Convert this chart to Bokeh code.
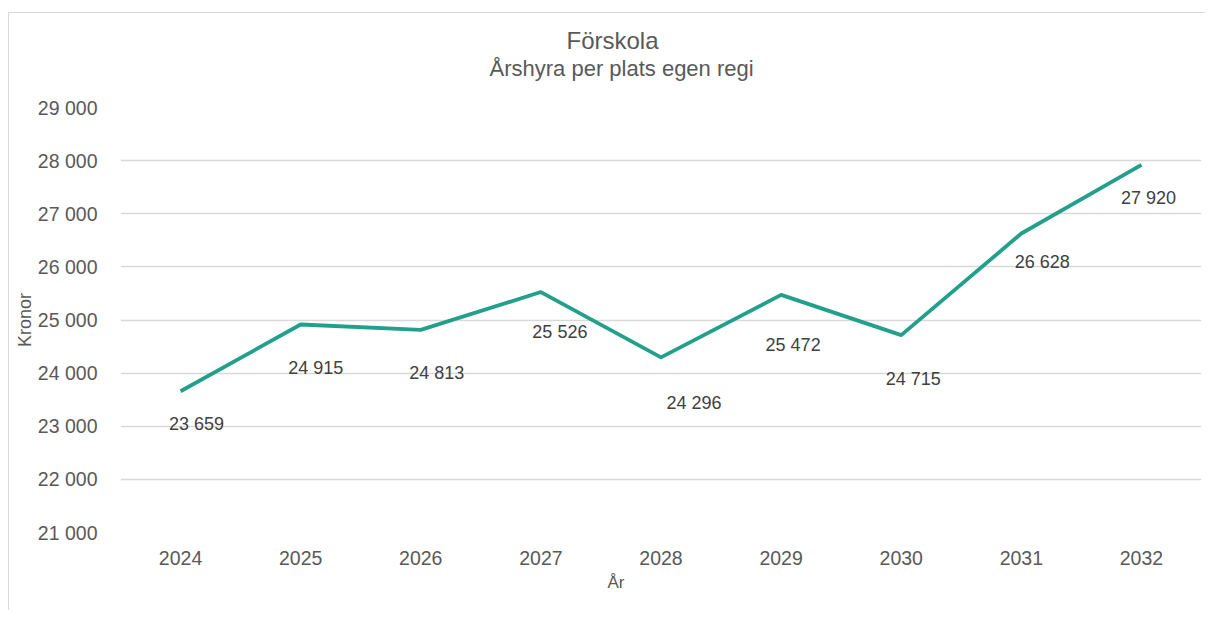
from bokeh.plotting import figure
from bokeh.models import Range1d, FixedTicker, Title, ColumnDataSource
from bokeh.core.properties import value
from bokeh.embed import file_html
from bokeh.resources import INLINE

# ---- data ----
years = ["2024", "2025", "2026", "2027", "2028", "2029", "2030", "2031", "2032"]
kronor = [23659, 24915, 24813, 25526, 24296, 25472, 24715, 26628, 27920]
y_ticks = [21000, 22000, 23000, 24000, 25000, 26000, 27000, 28000, 29000]
title_text = "Förskola"
subtitle_text = "Årshyra per plats egen regi"
x_title = "År"
y_title = "Kronor"

# label placement (screen pixel offsets, styling only)
label_dx = [16, 15, 16, 19, 33, 12, 12, 21, 7]
label_dy = [33, 43, 43, 40, 46, 50, 44, 28, 33]

FONT = "Liberation Sans"
TEAL = "#22A08B"
GRID = "#d9d9d9"
TXT = "#595959"

def fmt(v):
    return f"{v:,}".replace(",", " ")

xs = list(range(len(years)))
src = ColumnDataSource(dict(
    x=xs, y=kronor, lbl=[fmt(v) for v in kronor],
    dx=label_dx, dy=label_dy,
))

p = figure(width=1197, height=598, output_backend="svg", toolbar_location=None,
           x_range=Range1d(-0.5, len(years) - 0.5), y_range=Range1d(y_ticks[0], y_ticks[-1]),
           min_border_left=111, min_border_right=5, min_border_top=94, min_border_bottom=79,
           title=None)
p.margin = (12, 0, 0, 8)
p.styles = {"border-left": "1px solid #d9d9d9", "border-top": "1px solid #d9d9d9"}
p.outline_line_color = None
p.background_fill_color = "white"
p.border_fill_color = "white"

# grids
p.xgrid.visible = False
p.ygrid.grid_line_color = GRID
p.ygrid.grid_line_width = 1.5

# axes
p.yaxis.ticker = FixedTicker(ticks=y_ticks)
p.yaxis.major_label_overrides = {v: fmt(v) for v in y_ticks}
p.xaxis.ticker = FixedTicker(ticks=xs)
p.xaxis.major_label_overrides = {i: y for i, y in enumerate(years)}
for ax in (p.xaxis, p.yaxis):
    ax.axis_line_color = None
    ax.major_tick_line_color = None
    ax.minor_tick_line_color = None
    ax.major_tick_out = 0
    ax.major_tick_in = 0
    ax.major_label_text_font = FONT
    ax.major_label_text_font_size = "19.5px"
    ax.major_label_text_color = TXT
p.yaxis.major_label_standoff = 23
p.xaxis.major_label_standoff = 18

# line
p.line("x", "y", source=src, line_color=TEAL, line_width=3.8, line_join="round")

# data labels
p.text("x", "y", text="lbl", source=src, x_offset="dx", y_offset="dy",
       text_align="center", text_baseline="middle",
       text_font=value(FONT), text_font_size="18px", text_color="#404040")

# titles (first added 'above' sits closest to the plot area)
p.add_layout(Title(text=" ", align="left", offset=0, standoff=0,
                   text_font=FONT, text_font_size="22px"), "above")   # spacer
p.add_layout(Title(text=subtitle_text, align="left", offset=369, standoff=0,
                   text_font=FONT, text_font_size="22px", text_font_style="normal",
                   text_color=TXT), "above")
p.add_layout(Title(text=title_text, align="left", offset=446, standoff=0,
                   text_font=FONT, text_font_size="24px", text_font_style="normal",
                   text_color=TXT), "above")
p.add_layout(Title(text=x_title, align="left", offset=487, standoff=6,
                   text_font=FONT, text_font_size="17px", text_font_style="normal",
                   text_color=TXT), "below")
p.add_layout(Title(text=y_title, align="center", standoff=0,
                   text_font=FONT, text_font_size="18px", text_font_style="normal",
                   text_color=TXT), "left")

open("out.html", "w").write(file_html(p, INLINE))
